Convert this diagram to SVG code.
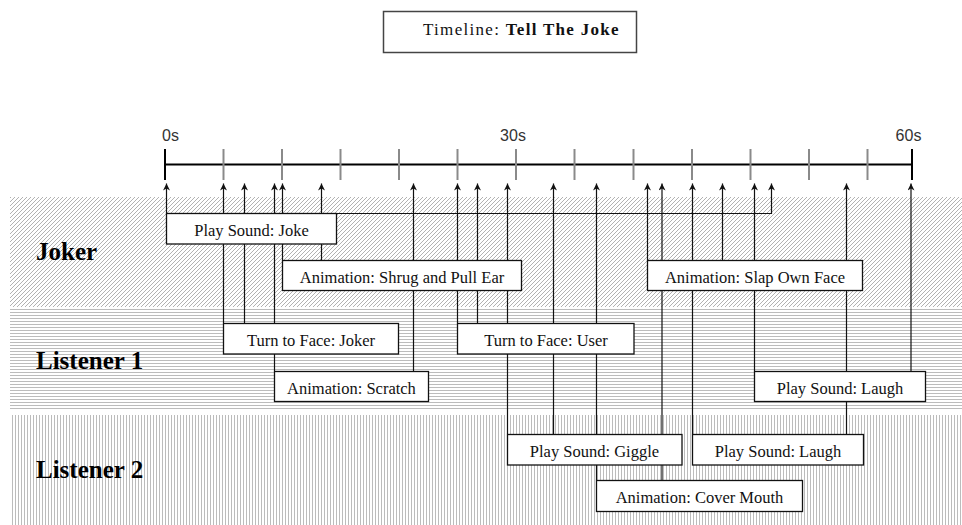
<svg xmlns="http://www.w3.org/2000/svg" width="962" height="525" viewBox="0 0 962 525">
<style>
.lane-label{font-family:"Liberation Serif","Times New Roman",serif;font-weight:bold;font-size:25px;fill:#000}
.box rect{fill:#fff;stroke:#111;stroke-width:1.3}
.box text{font-family:"Liberation Serif","Times New Roman",serif;font-size:16.5px;fill:#111;text-anchor:middle}
.conn{fill:none;stroke:#111;stroke-width:1.2;marker-end:url(#ah)}
.tick{stroke:#8a8a8a;stroke-width:2}
.axlbl{font-family:"Liberation Sans",Arial,sans-serif;font-size:16px;fill:#333;text-anchor:middle}
</style>
<defs>
<marker id="ah" viewBox="0 0 10 10" refX="10" refY="5" markerWidth="10" markerHeight="7" markerUnits="userSpaceOnUse" orient="auto">
<path d="M0,0 L10,5 L0,10 L3,5 z" fill="#111"/>
</marker>
<pattern id="diag" width="4" height="4" patternUnits="userSpaceOnUse">
<path d="M-1,1 L1,-1 M0,4 L4,0 M3,5 L5,3" stroke="#b2b2b2" stroke-width="1"/>
</pattern>
<pattern id="horiz" width="3" height="3" patternUnits="userSpaceOnUse">
<rect x="0" y="0" width="3" height="1" fill="#bcbcbc"/>
</pattern>
<pattern id="vert" width="3" height="3" patternUnits="userSpaceOnUse">
<rect x="0" y="0" width="1" height="3" fill="#bcbcbc"/>
</pattern>
</defs>
<rect width="962" height="525" fill="#fff"/>

<g id="title">
<rect x="383.5" y="11.5" width="253" height="41" fill="#fff" stroke="#444" stroke-width="1.5"/>
<text x="423" y="35" font-family="'Liberation Serif','Times New Roman',serif" font-size="17px" letter-spacing="1.3" fill="#111">Timeline: <tspan font-weight="bold">Tell The Joke</tspan></text>
</g>

<g id="lanes">
<rect x="10" y="197" width="952" height="110" fill="url(#diag)"/>
<rect x="10" y="307" width="952" height="103" fill="url(#horiz)"/>
<rect x="10" y="415" width="952" height="110" fill="url(#vert)"/>
<text class="lane-label" x="36" y="260">Joker</text>
<text class="lane-label" x="36" y="369">Listener 1</text>
<text class="lane-label" x="36" y="478">Listener 2</text>
</g>

<g id="axis">
<line x1="165" y1="164.5" x2="912" y2="164.5" stroke="#000" stroke-width="2.2"/>
<line class="tick" x1="223.5" y1="149" x2="223.5" y2="180"/>
<line class="tick" x1="282" y1="149" x2="282" y2="180"/>
<line class="tick" x1="340.5" y1="149" x2="340.5" y2="180"/>
<line class="tick" x1="399" y1="149" x2="399" y2="180"/>
<line class="tick" x1="457.5" y1="149" x2="457.5" y2="180"/>
<line class="tick" x1="516" y1="149" x2="516" y2="180"/>
<line class="tick" x1="574.5" y1="149" x2="574.5" y2="180"/>
<line class="tick" x1="633.5" y1="149" x2="633.5" y2="180"/>
<line class="tick" x1="692" y1="149" x2="692" y2="180"/>
<line class="tick" x1="750.5" y1="149" x2="750.5" y2="180"/>
<line class="tick" x1="809" y1="149" x2="809" y2="180"/>
<line class="tick" x1="867.5" y1="149" x2="867.5" y2="180"/>
<line x1="165" y1="149" x2="165" y2="180" stroke="#000" stroke-width="2"/>
<line x1="912" y1="149" x2="912" y2="180" stroke="#000" stroke-width="2"/>
<text class="axlbl" x="170.5" y="141">0s</text>
<text class="axlbl" x="513" y="141">30s</text>
<text class="axlbl" x="908.5" y="141">60s</text>
</g>

<g id="connectors">
<path class="conn" d="M166.5,213 V183.5"/>
<path class="conn" d="M337,213.5 H771.5 V183.5"/>
<path class="conn" d="M223.5,323 V183.5"/>
<path class="conn" d="M244.5,323 V183.5"/>
<path class="conn" d="M274.5,371 V183.5"/>
<path class="conn" d="M282.5,260 V183.5"/>
<path class="conn" d="M321.5,260 V183.5"/>
<path class="conn" d="M413.5,371 V183.5"/>
<path class="conn" d="M457.5,323 V183.5"/>
<path class="conn" d="M477.5,323 V183.5"/>
<path class="conn" d="M507.5,434 V183.5"/>
<path class="conn" d="M553.5,434 V183.5"/>
<path class="conn" d="M596.5,480 V183.5"/>
<path class="conn" d="M647.5,260 V183.5"/>
<path class="conn" d="M662,480 V183.5"/>
<path class="conn" d="M692.5,434 V183.5"/>
<path class="conn" d="M722.5,260 V183.5"/>
<path class="conn" d="M754.5,371 V183.5"/>
<path class="conn" d="M846.5,434 V183.5"/>
<path class="conn" d="M911,371 V183.5"/>
</g>

<g id="n-joke" class="box"><rect x="166.5" y="213.5" width="170" height="30.5"/><text x="251.5" y="236">Play Sound: Joke</text></g>
<g id="n-shrug" class="box"><rect x="282.5" y="260.5" width="239" height="30"/><text x="402" y="283">Animation: Shrug and Pull Ear</text></g>
<g id="n-slap" class="box"><rect x="647.5" y="260.5" width="215" height="30"/><text x="755" y="283">Animation: Slap Own Face</text></g>
<g id="n-turnjoker" class="box"><rect x="223.5" y="323.5" width="175" height="30.5"/><text x="311" y="346">Turn to Face: Joker</text></g>
<g id="n-scratch" class="box"><rect x="274.5" y="371.5" width="154" height="30"/><text x="351.5" y="394">Animation: Scratch</text></g>
<g id="n-turnuser" class="box"><rect x="457.5" y="323.5" width="176.5" height="30.5"/><text x="546" y="346">Turn to Face: User</text></g>
<g id="n-laugh1" class="box"><rect x="754.5" y="371.5" width="171" height="30"/><text x="840" y="394">Play Sound: Laugh</text></g>
<g id="n-giggle" class="box"><rect x="507.5" y="434.5" width="174.5" height="30.5"/><text x="594.5" y="457">Play Sound: Giggle</text></g>
<g id="n-laugh2" class="box"><rect x="692.5" y="434.5" width="171" height="30.5"/><text x="778" y="457">Play Sound: Laugh</text></g>
<g id="n-cover" class="box"><rect x="596.5" y="480.5" width="206" height="31"/><text x="699.5" y="503">Animation: Cover Mouth</text></g>
</svg>
